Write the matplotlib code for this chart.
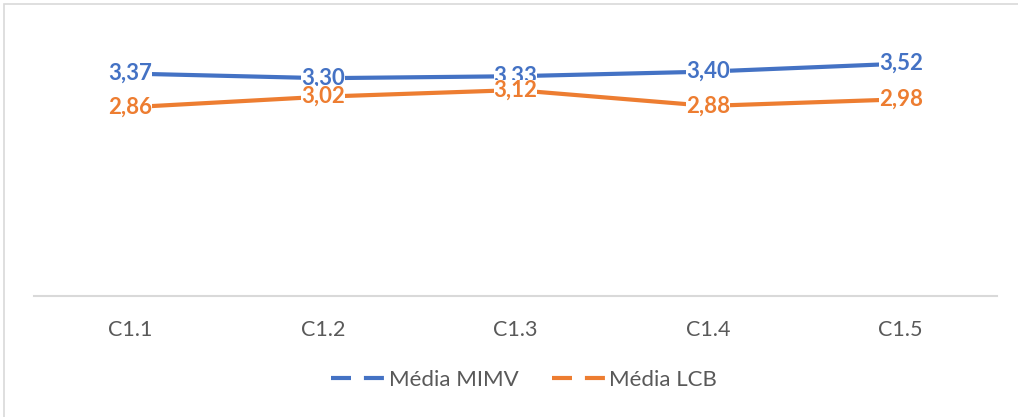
import matplotlib
matplotlib.use("Agg")
import matplotlib.pyplot as plt
from matplotlib.lines import Line2D
from matplotlib.patches import Rectangle

categories = ["C1.1", "C1.2", "C1.3", "C1.4", "C1.5"]
media_mimv = [3.37, 3.30, 3.33, 3.40, 3.52]
media_lcb = [2.86, 3.02, 3.12, 2.88, 2.98]
series_names = ["Média MIMV", "Média LCB"]

BLUE = "#4472C4"
ORANGE = "#ED7D31"
GRAY_TEXT = "#595959"
GRID = "#D9D9D9"

plt.rcParams["font.family"] = ["Lato", "DejaVu Sans"]

W, H = 1018, 417
fig = plt.figure(figsize=(W / 100, H / 100), dpi=100)

# chart frame
fig.patches.append(Rectangle((4 / W, -0.1), 1.2, 1 - 4 / H + 0.1, transform=fig.transFigure,
                             fill=False, edgecolor=GRID, linewidth=1.2))

left, right = 34 / W, 997 / W
bottom, top = (H - 296) / H, (H - 32) / H
ax = fig.add_axes([left, bottom, right - left, top - bottom])
ax.set_xlim(-0.5, len(categories) - 0.5)
ax.set_ylim(0, 4)

x = list(range(len(categories)))
ax.plot(x, media_mimv, color=BLUE, linewidth=3, solid_capstyle="butt", zorder=2)
ax.plot(x, media_lcb, color=ORANGE, linewidth=3, solid_capstyle="butt", zorder=2)

def fmt(v):
    return f"{v:.2f}".replace(".", ",")

for xi, v in zip(x, media_mimv):
    ax.text(xi, v, fmt(v), ha="center", va="center", color=BLUE, fontsize=16,
            fontweight="bold", zorder=3,
            bbox=dict(facecolor="white", edgecolor="none", pad=0.0))
for xi, v in zip(x, media_lcb):
    ax.text(xi, v, fmt(v), ha="center", va="center", color=ORANGE, fontsize=16,
            fontweight="bold", zorder=4,
            bbox=dict(facecolor="white", edgecolor="none", pad=0.0))

for s in ["top", "right", "left"]:
    ax.spines[s].set_visible(False)
ax.spines["bottom"].set_color(GRID)
ax.spines["bottom"].set_linewidth(1.5)
ax.set_yticks([])
ax.set_xticks(x)
ax.set_xticklabels(categories, color=GRAY_TEXT, fontsize=15.5)
ax.tick_params(axis="x", length=0, pad=17)

handles = [Line2D([], [], color=BLUE, linewidth=3, dashes=(4.8, 3.1)),
           Line2D([], [], color=ORANGE, linewidth=3, dashes=(4.8, 3.1))]
leg = fig.legend(handles, series_names, loc="center", bbox_to_anchor=(524 / W, 1 - 380 / H),
                 ncol=2, frameon=False, fontsize=16, handlelength=2.4,
                 handletextpad=0.2, columnspacing=1.5)
for t in leg.get_texts():
    t.set_color(GRAY_TEXT)

fig.savefig("out.png", dpi=100, facecolor="white")
